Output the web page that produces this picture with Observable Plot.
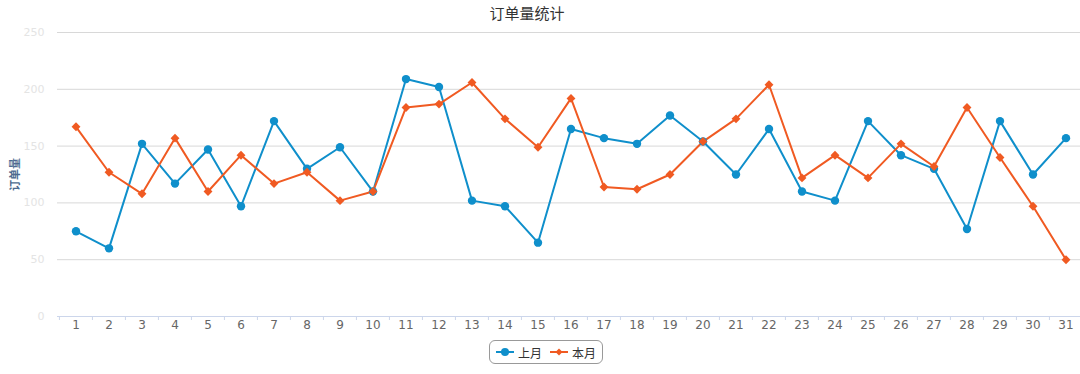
<!DOCTYPE html>
<html>
<head>
<meta charset="utf-8">
<script src="https://cdn.jsdelivr.net/npm/d3@7"></script>
<script src="https://cdn.jsdelivr.net/npm/@observablehq/plot@0.6"></script>
<style>
  html, body { margin: 0; padding: 0; background: #fff; overflow: hidden; width: 1080px; height: 374px; }
  body { font-family: "Lucida Grande", "DejaVu Sans", "Noto Sans CJK SC", sans-serif; }
  #title { height: 26px; line-height: 26px; font-size: 15px; color: #333; text-align: center; padding-right: 26px; font-family: "Noto Sans CJK SC", sans-serif; }
  #chart svg { display: block; overflow: visible; }
  #legend { display: flex; justify-content: center; margin-top: 4px; padding-left: 12px; }
  #legend .box { display: flex; align-items: center; border: 1px solid #999; border-radius: 6px; height: 22px; padding: 0 6px; font-size: 12px; color: #333; font-family: "Noto Sans CJK SC", sans-serif; }
  #legend .item { display: flex; align-items: center; gap: 4px; margin-right: 8px; }
  #legend .item:last-child { margin-right: 0; }
</style>
</head>
<body>
<div id="title"></div>
<div id="chart"></div>
<div id="legend"></div>
<script>
const title = "订单量统计";
const yLabel = "订单量";
const seriesNames = ["上月", "本月"];
const seriesColors = ["#0f8fcb", "#f05a22"];
const days = d3.range(1, 32).map(String);
const lastMonth = [75, 60, 152, 117, 147, 97, 172, 130, 149, 110, 209, 202, 102, 97, 65, 165, 157, 152, 177, 154, 125, 165, 110, 102, 172, 142, 130, 77, 172, 125, 157];
const thisMonth = [167, 127, 108, 157, 110, 142, 117, 127, 102, 110, 184, 187, 206, 174, 149, 192, 114, 112, 125, 154, 174, 204, 122, 142, 122, 152, 132, 184, 140, 97, 50];
const yTicks = [0, 50, 100, 150, 200, 250];

document.getElementById("title").textContent = title;

const rows = [];
days.forEach((d, i) => {
  rows.push({day: d, value: lastMonth[i], series: seriesNames[0]});
  rows.push({day: d, value: thisMonth[i], series: seriesNames[1]});
});
const last = rows.filter(r => r.series === seriesNames[0]);
const cur = rows.filter(r => r.series === seriesNames[1]);

const xRange = [56.4, 1084.6];
const bw = (xRange[1] - xRange[0]) / days.length;

const chart = Plot.plot({
  width: 1080,
  height: 310,
  marginLeft: 57,
  marginRight: 0,
  marginTop: 6,
  marginBottom: 20,
  style: {fontFamily: "'Lucida Grande', 'DejaVu Sans', 'Noto Sans CJK SC', sans-serif", background: "#fff"},
  x: {type: "band", domain: days, range: xRange, padding: 0},
  y: {domain: [0, 250]},
  marks: [
    Plot.gridY(yTicks.slice(1), {stroke: "#d8d8d8", strokeOpacity: 1, strokeWidth: 1}),
    Plot.ruleY([0], {stroke: "#ccd6eb"}),
    Plot.axisY(yTicks, {tickSize: 0, tickPadding: 13, fill: "#e4e4e4", fontSize: 11, label: yLabel, labelAnchor: "center", labelOffset: 46}),
    Plot.axisX({tickSize: 0, tickPadding: 4, fill: "#666", fontSize: 12, label: null}),
    Plot.axisX({tickSize: 4, tickFormat: () => "", dx: -bw / 2, stroke: "#ccd6eb", label: null}),
    Plot.line(last, {x: "day", y: "value", stroke: seriesColors[0], strokeWidth: 2}),
    Plot.line(cur, {x: "day", y: "value", stroke: seriesColors[1], strokeWidth: 2}),
    Plot.dot(last, {x: "day", y: "value", fill: seriesColors[0], r: 4.2, symbol: "circle"}),
    Plot.dot(cur, {x: "day", y: "value", fill: seriesColors[1], r: 4, symbol: "diamond2"})
  ]
});
document.getElementById("chart").appendChild(chart);

// style y label (drop arrow)
d3.select(chart).selectAll("[aria-label='y-axis label'] text")
  .text(yLabel).attr("fill", "#4d6b8f").attr("font-weight", "bold").attr("font-size", 11);

// legend
const box = document.createElement("div");
box.className = "box";
seriesNames.forEach((name, i) => {
  const item = document.createElement("div");
  item.className = "item";
  const sym = i === 0
    ? `<svg width="18" height="10"><line x1="0" y1="5" x2="18" y2="5" stroke="${seriesColors[i]}" stroke-width="2"/><circle cx="9" cy="5" r="4" fill="${seriesColors[i]}"/></svg>`
    : `<svg width="18" height="10"><line x1="0" y1="5" x2="18" y2="5" stroke="${seriesColors[i]}" stroke-width="2"/><path d="M9 1.5L12.5 5L9 8.5L5.5 5Z" fill="${seriesColors[i]}"/></svg>`;
  item.innerHTML = sym + `<span>${name}</span>`;
  box.appendChild(item);
});
document.getElementById("legend").appendChild(box);
</script>
</body>
</html>
